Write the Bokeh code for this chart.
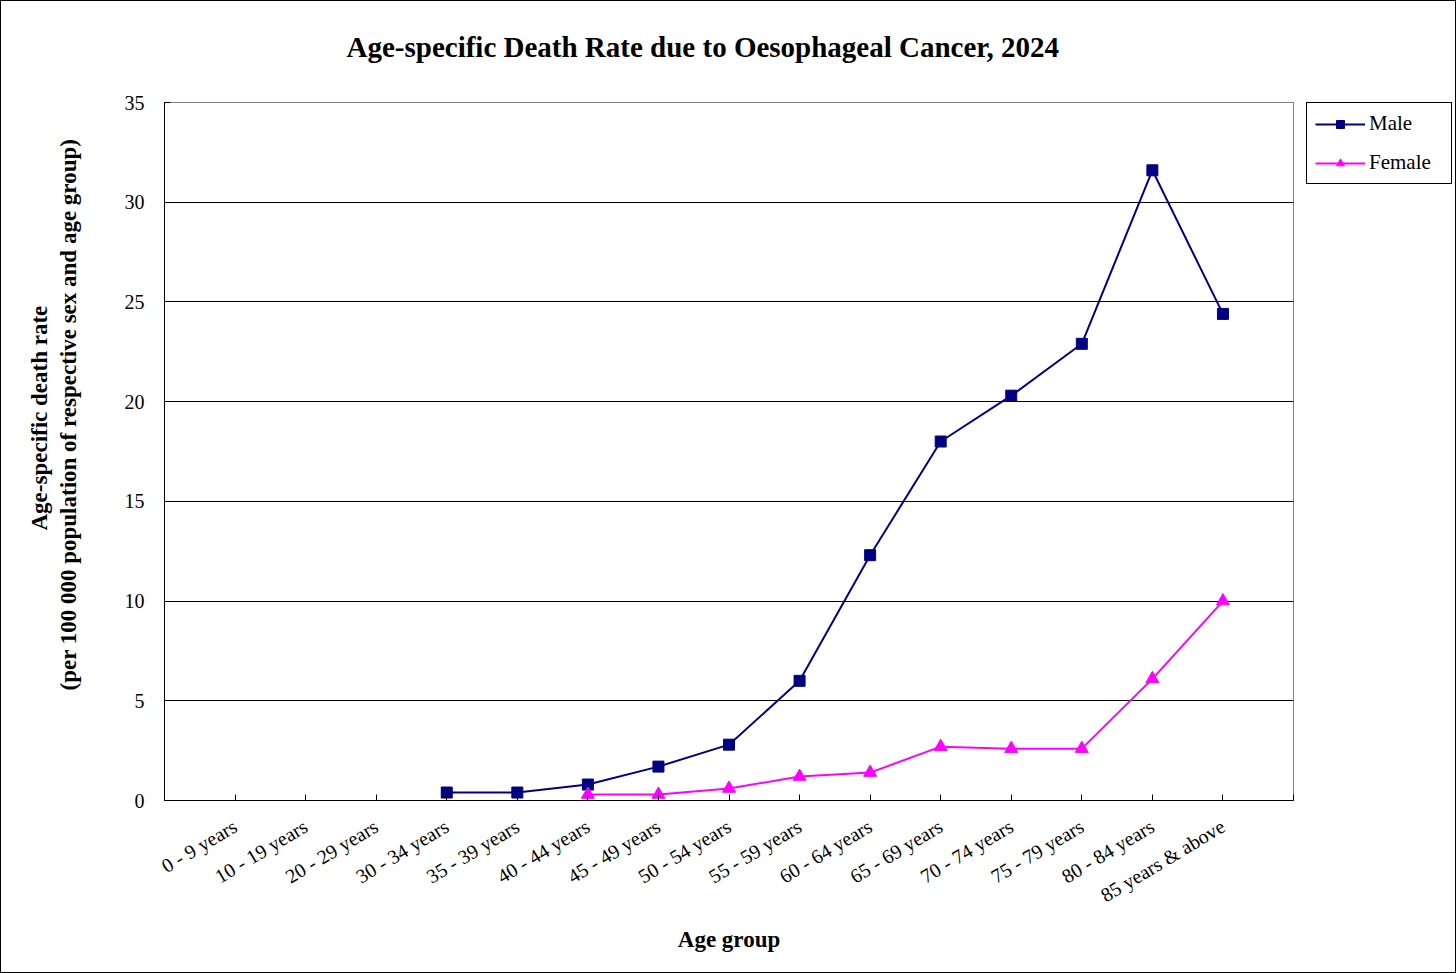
import math
from bokeh.plotting import figure
from bokeh.layouts import row
from bokeh.models import (Range1d, FixedTicker, Legend, LegendItem, Title)
from bokeh.embed import file_html
from bokeh.resources import INLINE

age_groups = ["0 - 9 years", "10 - 19 years", "20 - 29 years", "30 - 34 years", "35 - 39 years",
              "40 - 44 years", "45 - 49 years", "50 - 54 years", "55 - 59 years", "60 - 64 years",
              "65 - 69 years", "70 - 74 years", "75 - 79 years", "80 - 84 years", "85 years & above"]
male = [None, None, None, 0.4, 0.4, 0.8, 1.7, 2.8, 6.0, 12.3, 18.0, 20.3, 22.9, 31.6, 24.4]
female = [None, None, None, None, None, 0.3, 0.3, 0.6, 1.2, 1.4, 2.7, 2.6, 2.6, 6.1, 10.0]
y_ticks = [0, 5, 10, 15, 20, 25, 30, 35]
series_names = ["Male", "Female"]
series_colors = ["#000080", "#FF00FF"]

FONT = "Liberation Serif"
W, H = 1454, 971          # inside a 1px page border
FL, FR, FT, FB = 163, 1292, 101, 799
LEG_LEFT = 1305           # legend panel starts here (inside the border)
LEG_TOP = 100

xpos = list(range(1, len(age_groups) + 1))
mx = [x for x, v in zip(xpos, male) if v is not None]
my = [v for v in male if v is not None]
fx = [x for x, v in zip(xpos, female) if v is not None]
fy = [v for v in female if v is not None]

p = figure(frame_width=FR - FL, frame_height=FB - FT, output_backend="svg", toolbar_location=None,
           x_range=Range1d(0, len(age_groups) + 1), y_range=Range1d(0, 35),
           min_border_left=FL, min_border_right=LEG_LEFT - FR, min_border_top=FT,
           min_border_bottom=H - FB)
p.background_fill_color = "white"
p.border_fill_color = "white"
p.outline_line_color = "#808080"
p.outline_line_width = 1

# main title (outermost in the "above" panel)
p.title.text = "Age-specific Death Rate due to Oesophageal Cancer, 2024"
p.title.text_font = FONT
p.title.text_font_style = "bold"
p.title.text_font_size = "29px"
p.title.text_color = "black"
p.title.align = "left"
p.title.offset = 182
p.title.standoff = 0
p.title.vertical_align = "bottom"
# spacer between the frame and the title
p.add_layout(Title(text=" ", text_font_size="1px", standoff=37), "above")

# axes
p.xaxis.ticker = FixedTicker(ticks=xpos + [len(age_groups) + 1])
overrides = {x: lab for x, lab in zip(xpos, age_groups)}
overrides[len(age_groups) + 1] = ""
p.xaxis.major_label_overrides = overrides
p.xaxis.major_label_orientation = 0.54
p.xaxis.major_label_text_font = FONT
p.xaxis.major_label_text_font_size = "20px"
p.xaxis.major_label_text_color = "black"
p.xaxis.major_label_standoff = 24
p.xaxis.major_tick_in = 6
p.xaxis.major_tick_out = 0
p.xaxis.minor_tick_line_color = None
p.xaxis.axis_line_color = "black"
p.xaxis.major_tick_line_color = "black"
p.xaxis.axis_label = "Age group"
p.xaxis.axis_label_text_font = FONT
p.xaxis.axis_label_text_font_style = "bold"
p.xaxis.axis_label_text_font_size = "23px"
p.xaxis.axis_label_text_color = "black"
p.xaxis.axis_label_standoff = 8

p.yaxis.ticker = FixedTicker(ticks=y_ticks)
p.yaxis.major_label_text_font = FONT
p.yaxis.major_label_text_font_size = "20px"
p.yaxis.major_label_text_color = "black"
p.yaxis.major_label_standoff = 20
p.yaxis.major_tick_in = 6
p.yaxis.major_tick_out = 0
p.yaxis.minor_tick_line_color = None
p.yaxis.axis_line_color = "black"

# y axis title: two lines, as left-side titles (spacer first, nearest the axis)
p.add_layout(Title(text=" ", text_font_size="1px", standoff=38), "left")
p.add_layout(Title(text="(per 100 000 population of respective sex and age group)",
                   text_font=FONT, text_font_style="bold", text_font_size="23px",
                   text_color="black", align="left", offset=110, standoff=0,
                   vertical_align="bottom"), "left")
p.add_layout(Title(text="Age-specific death rate",
                   text_font=FONT, text_font_style="bold", text_font_size="23px",
                   text_color="black", align="left", offset=270, standoff=3,
                   vertical_align="bottom"), "left")

p.xgrid.grid_line_color = None
p.ygrid.grid_line_color = "black"
p.ygrid.grid_line_width = 1

# series
p.line(mx, my, line_color=series_colors[0], line_width=2)
p.scatter(mx, my, marker="square", size=11, fill_color=series_colors[0], line_color=series_colors[0])
p.line(fx, fy, line_color=series_colors[1], line_width=2)
p.scatter(fx, fy, marker="triangle", size=13, fill_color=series_colors[1], line_color=series_colors[1])

# legend panel: a small companion plot to the right of the chart.
# Its renderers reuse the series data but lie outside its visible range,
# so only the legend swatches show.
q = figure(width=W - LEG_LEFT, height=H, output_backend="svg", toolbar_location=None,
           x_axis_type=None, y_axis_type=None,
           x_range=Range1d(-200, -100), y_range=Range1d(-200, -100),
           min_border_left=0, min_border_right=0, min_border_top=LEG_TOP, min_border_bottom=0)
q.outline_line_color = None
q.background_fill_color = "white"
q.border_fill_color = "white"
ql1 = q.line(mx, my, line_color=series_colors[0], line_width=2)
qs1 = q.scatter(mx, my, marker="square", size=11, fill_color=series_colors[0], line_color=series_colors[0])
ql2 = q.line(fx, fy, line_color=series_colors[1], line_width=2)
qs2 = q.scatter(fx, fy, marker="triangle", size=13, fill_color=series_colors[1], line_color=series_colors[1])
legend = Legend(items=[LegendItem(label=series_names[0], renderers=[ql1, qs1]),
                       LegendItem(label=series_names[1], renderers=[ql2, qs2])],
                location="top_left",
                border_line_color="black", border_line_width=1, border_line_alpha=1,
                background_fill_color="white", background_fill_alpha=1,
                label_text_font=FONT, label_text_font_size="21px", label_text_color="black",
                glyph_width=50, glyph_height=20, label_height=20, label_width=74,
                label_standoff=4, spacing=14, padding=8, margin=0)
q.add_layout(legend, "center")

root = row(p, q, spacing=0, styles={"border": "1px solid black"})
open("out.html", "w").write(file_html(root, INLINE))
